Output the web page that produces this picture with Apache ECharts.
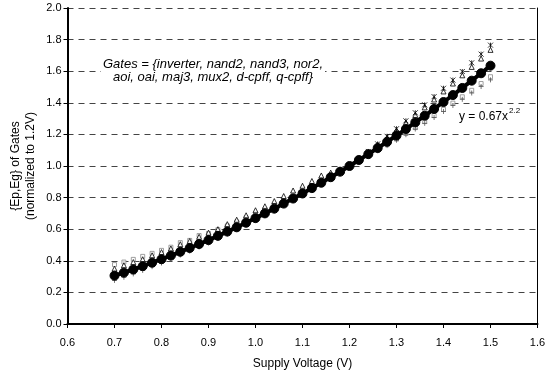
<!DOCTYPE html>
<html><head><meta charset="utf-8">
<script src="https://cdn.jsdelivr.net/npm/echarts@6/dist/echarts.min.js"></script>
<style>html,body{margin:0;padding:0;background:#fff}#c{width:546px;height:371px}</style>
</head><body><div id="c"></div>
<script>
var voltages = [0.70,0.72,0.74,0.76,0.78,0.80,0.82,0.84,0.86,0.88,0.90,0.92,0.94,0.96,0.98,1.00,1.02,1.04,1.06,1.08,1.10,1.12,1.14,1.16,1.18,1.20,1.22,1.24,1.26,1.28,1.30,1.32,1.34,1.36,1.38,1.40,1.42,1.44,1.46,1.48,1.50];
var meanEnergy = [0.306,0.325,0.345,0.366,0.388,0.410,0.433,0.457,0.481,0.506,0.531,0.558,0.585,0.612,0.641,0.670,0.700,0.730,0.762,0.794,0.826,0.860,0.894,0.929,0.964,1.000,1.038,1.075,1.114,1.153,1.193,1.234,1.276,1.318,1.361,1.405,1.449,1.494,1.540,1.587,1.635];
var gateSquares = [0.376,0.392,0.409,0.428,0.447,0.466,0.486,0.515,0.529,0.560,0.573,0.597,0.621,0.646,0.672,0.698,0.725,0.752,0.782,0.811,0.840,0.871,0.902,0.935,0.967,1.000,1.033,1.066,1.100,1.134,1.170,1.206,1.243,1.281,1.319,1.358,1.398,1.438,1.479,1.522,1.565];
var gateTriangles = [0.350,0.372,0.392,0.410,0.435,0.455,0.478,0.505,0.525,0.552,0.578,0.600,0.632,0.660,0.688,0.720,0.745,0.778,0.810,0.845,0.875,0.905,0.940,0.958,0.978,1.002,1.045,1.088,1.134,1.180,1.226,1.274,1.323,1.371,1.421,1.472,1.522,1.574,1.627,1.680,1.735];
var gateCrosses = [0.300,0.320,0.342,0.362,0.384,0.406,0.430,0.452,0.478,0.502,0.528,0.555,0.582,0.610,0.638,0.668,0.698,0.728,0.760,0.792,0.824,0.858,0.892,0.928,0.963,1.000,1.047,1.092,1.140,1.188,1.236,1.286,1.337,1.387,1.439,1.492,1.544,1.598,1.653,1.708,1.765];
var gatePlus = [0.276,0.296,0.317,0.339,0.363,0.386,0.411,0.436,0.461,0.487,0.513,0.541,0.569,0.598,0.628,0.658,0.689,0.720,0.754,0.787,0.820,0.855,0.890,0.927,0.963,1.000,1.032,1.063,1.096,1.129,1.163,1.198,1.234,1.270,1.307,1.345,1.383,1.422,1.462,1.503,1.545];
var yTicks = ['0.0','0.2','0.4','0.6','0.8','1.0','1.2','1.4','1.6','1.8','2.0'];
var xTicks = ['0.6','0.7','0.8','0.9','1.0','1.1','1.2','1.3','1.4','1.5','1.6'];

function pairs(vals){ return voltages.map(function(v,i){ return [v, vals[i]]; }); }
var FONT = 'Liberation Sans, Arial, sans-serif';
var chart = echarts.init(document.getElementById('c'), null, {renderer:'canvas'});
chart.setOption({
  animation:false,
  backgroundColor:'#fff',
  grid:{left:67.5, right:8.5, top:8, bottom:47, outerBoundsMode:'none', containLabel:false},
  xAxis:{type:'value', min:0.6, max:1.6, interval:0.1,
    name:'Supply Voltage (V)', nameLocation:'middle', nameGap:34,
    nameTextStyle:{fontFamily:FONT, fontSize:12, color:'#000'},
    axisLine:{show:true, onZero:false, lineStyle:{color:'#000', width:2}},
    axisTick:{show:true, length:4, lineStyle:{color:'#000'}},
    axisLabel:{fontFamily:FONT, fontSize:11, color:'#000', margin:13,
      formatter:function(v){ var k=Math.round((v-0.6)*10); return xTicks[k]; }},
    splitLine:{show:false}},
  yAxis:[{type:'value', min:0, max:2, interval:0.2,
    axisLine:{show:true, lineStyle:{color:'#000', width:2}},
    axisTick:{show:true, length:4, lineStyle:{color:'#000'}},
    axisLabel:{fontFamily:FONT, fontSize:11, color:'#000', margin:6,
      formatter:function(v){ return yTicks[Math.round(v*5)]; }},
    splitLine:{show:true, lineStyle:{color:'#444', width:1, type:[6,5]}}},
   {type:'value', min:0, max:2, interval:0.2, position:'right',
    axisLine:{show:true, lineStyle:{color:'#000', width:1}},
    axisTick:{show:false}, axisLabel:{show:false}, splitLine:{show:false}}],
  series:[
    {type:'scatter', data:pairs(gateSquares), symbol:'rect', symbolSize:4, z:2,
     itemStyle:{color:'#fff', borderColor:'#888', borderWidth:1}},
    {type:'scatter', data:pairs(gateTriangles), symbol:'triangle', symbolSize:5, z:2,
     itemStyle:{color:'#fff', borderColor:'#000', borderWidth:1}},
    {type:'scatter', data:pairs(gateCrosses), symbol:'path://M0,0L10,10M10,0L0,10M5,0L5,10', symbolSize:5, z:2,
     itemStyle:{color:'none', borderColor:'#000', borderWidth:1}},
    {type:'scatter', data:pairs(gatePlus), symbol:'path://M5,0L5,10M0,5L10,5', symbolSize:5, z:2,
     itemStyle:{color:'none', borderColor:'#555', borderWidth:1}},
    {type:'line', data:pairs(meanEnergy), symbol:'circle', symbolSize:9, z:5,
     lineStyle:{color:'#000', width:4}, itemStyle:{color:'#000', borderColor:'#000'}}
  ],
  graphic:[
    {type:'text', z:10, x:23.5, y:166, rotation:Math.PI/2,
      style:{x:0, y:0, text:'{Ep,Eg} of Gates\n(normalized to 1.2V)', font:'12px Liberation Sans, Arial, sans-serif',
      fill:'#000', align:'center', verticalAlign:'middle', lineHeight:15}},
    {type:'text', z:10, style:{x:213, y:71, text:'Gates = {inverter, nand2, nand3, nor2,\naoi, oai, maj3, mux2, d-cpff, q-cpff}',
      font:'italic 13px Liberation Sans, Arial, sans-serif', fill:'#000', align:'center', verticalAlign:'middle', lineHeight:13,
      backgroundColor:'#fff', padding:[0,2]}},
    {type:'text', z:10, style:{x:459, y:117, text:'y = 0.67x', font:'12px Liberation Sans, Arial, sans-serif', fill:'#000', verticalAlign:'middle'}},
    {type:'text', z:10, style:{x:509, y:111, text:'2.2', font:'8px Liberation Sans, Arial, sans-serif', fill:'#000', verticalAlign:'middle'}}
  ]
});
</script></body></html>
